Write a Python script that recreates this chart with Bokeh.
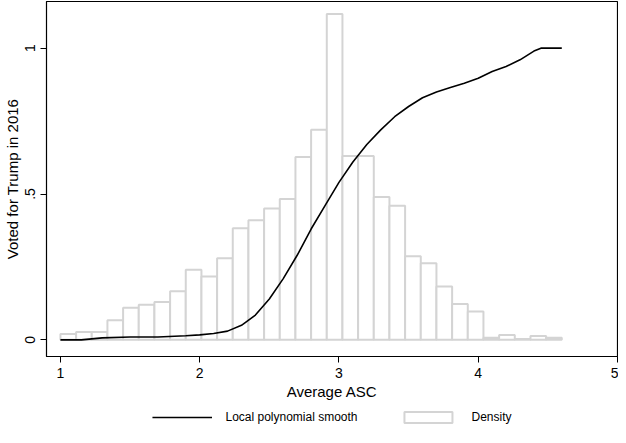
from bokeh.plotting import figure
from bokeh.layouts import column
from bokeh.models import Legend, LegendItem, Range1d, FixedTicker
from bokeh.embed import file_html
from bokeh.resources import INLINE

# histogram: 32 bins from 1.0 to 4.6
bin_start = 1.0
bin_width = 0.1125
density = [0.02, 0.027, 0.027, 0.067, 0.11, 0.12, 0.13, 0.167, 0.24, 0.217,
           0.28, 0.383, 0.41, 0.45, 0.483, 0.627, 0.72, 1.117, 0.63, 0.63,
           0.49, 0.46, 0.287, 0.263, 0.183, 0.123, 0.097, 0.007, 0.017, 0.003,
           0.013, 0.007]

smooth_x = [1.0, 1.15, 1.3, 1.5, 1.7, 1.9, 2.0, 2.1, 2.2, 2.3, 2.4, 2.5, 2.6,
            2.7, 2.8, 2.9, 3.0, 3.1, 3.2, 3.3, 3.4, 3.5, 3.6, 3.7, 3.8, 3.9,
            4.0, 4.1, 4.2, 4.3, 4.4, 4.45, 4.5, 4.6]
smooth_y = [0.0, 0.0, 0.007, 0.01, 0.01, 0.014, 0.017, 0.022, 0.03, 0.05,
            0.085, 0.14, 0.21, 0.29, 0.38, 0.46, 0.54, 0.61, 0.67, 0.72,
            0.765, 0.80, 0.83, 0.85, 0.865, 0.88, 0.897, 0.92, 0.937, 0.96,
            0.99, 1.0, 1.0, 1.0]

FONT = "Liberation Sans"

p = figure(width=618, height=402, output_backend="svg", toolbar_location=None,
           tools="", x_range=Range1d(0.9, 5.0), y_range=Range1d(-0.057, 1.16),
           min_border_left=5, min_border_right=1, min_border_top=1,
           min_border_bottom=0)
p.xgrid.visible = False
p.ygrid.visible = False
p.outline_line_color = "black"
p.outline_line_width = 1.2

lefts = [bin_start + i * bin_width for i in range(len(density))]
rights = [l + bin_width for l in lefts]
bars = p.quad(left=lefts, right=rights, bottom=0, top=density,
              fill_color="white", line_color="#d4d4d4", line_width=2)
ln = p.line(smooth_x, smooth_y, line_color="black", line_width=1.6)

p.xaxis.ticker = FixedTicker(ticks=[1, 2, 3, 4, 5])
p.yaxis.ticker = FixedTicker(ticks=[0, 0.5, 1])
p.yaxis.major_label_overrides = {0: "0", 0.5: ".5", 1: "1"}
p.yaxis.major_label_orientation = "vertical"
for ax in (p.xaxis[0], p.yaxis[0]):
    ax.axis_line_color = "black"
    ax.major_tick_line_color = "black"
    ax.minor_tick_line_color = None
    ax.major_tick_out = 6
    ax.major_tick_in = 0
    ax.major_label_text_font = FONT
    ax.major_label_text_font_size = "14px"
    ax.major_label_text_color = "black"
    ax.axis_label_text_font = FONT
    ax.axis_label_text_font_size = "15px"
    ax.axis_label_text_font_style = "normal"
    ax.axis_label_text_color = "black"
    ax.axis_label_standoff = 2
p.xaxis.axis_label = "Average ASC"
p.yaxis.axis_label = "Voted for Trump in 2016"

# legend strip below the plot (proxy glyphs sit outside the visible range)
lg = figure(width=618, height=30, output_backend="svg", toolbar_location=None,
            tools="", x_range=Range1d(0, 1), y_range=Range1d(0, 1),
            min_border=0)
lg.axis.visible = False
lg.grid.visible = False
lg.outline_line_color = None
l_ln = lg.line([5, 6], [5, 6], line_color="black", line_width=1.6)
l_bar = lg.quad(left=[5], right=[6], bottom=[5], top=[6], fill_color="white",
                line_color="#d4d4d4", line_width=2)
legend = Legend(items=[LegendItem(label="Local polynomial smooth", renderers=[l_ln]),
                       LegendItem(label="Density", renderers=[l_bar])],
                orientation="horizontal", location="center",
                border_line_color=None, background_fill_alpha=0,
                label_text_font=FONT, label_text_font_size="12px",
                label_text_color="black",
                glyph_width=60, glyph_height=14, spacing=40,
                label_standoff=14, padding=0, margin=0)
lg.add_layout(legend, "center")

open("out.html", "w").write(file_html(column(p, lg, spacing=0), INLINE))
